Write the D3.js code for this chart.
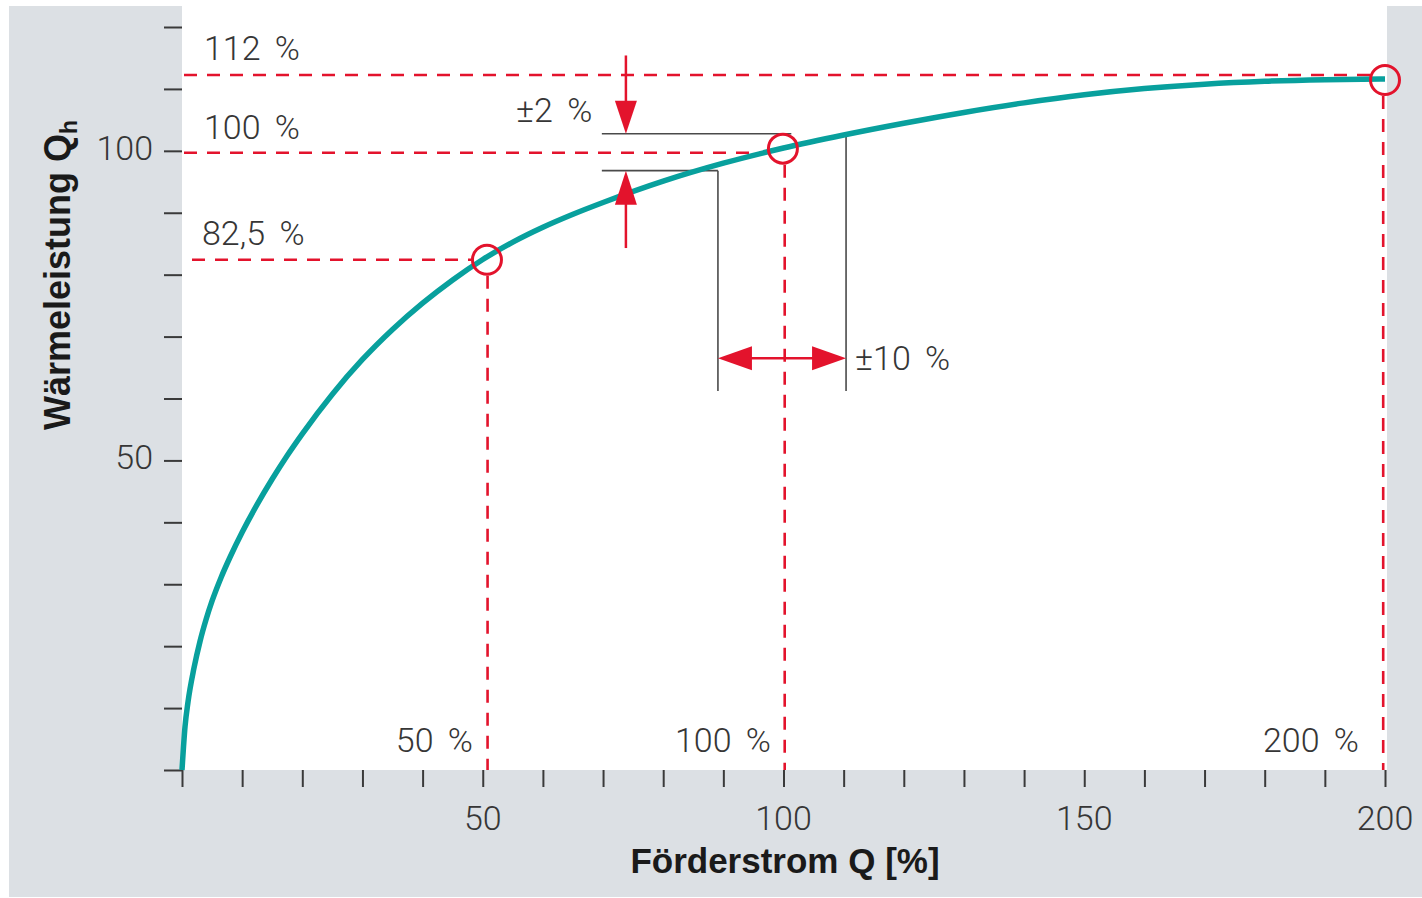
<!DOCTYPE html>
<html>
<head>
<meta charset="utf-8">
<script src="https://cdn.jsdelivr.net/npm/d3@7"></script>
<style>
  html, body { margin: 0; padding: 0; background: #ffffff; }
  svg { display: block; }
  .lt { font-family: "Roboto", "Liberation Sans", sans-serif; font-weight: 300; fill: #363636; }
  .bd { font-family: "Liberation Sans", Arial, sans-serif; font-weight: bold; fill: #1a1a1a; }
</style>
</head>
<body>
<svg id="chart" width="1422" height="898"></svg>
<script>
// ---- data ----
const flowQ  = [0, 0.5, 1, 2, 3, 4, 5, 6.5, 8, 10, 12.5, 15, 17.5, 20, 25, 30, 35, 40, 45, 50, 55, 60, 65, 70, 80, 90, 100, 110, 120, 130, 140, 150, 160, 170, 180, 190, 200];
const heatQh = [0, 7.0, 11.0, 16.5, 20.8, 24.3, 27.3, 31.1, 34.4, 38.4, 42.9, 47.0, 50.8, 54.3, 60.7, 66.3, 71.15, 75.4, 79.15, 82.45, 85.25, 87.65, 89.75, 91.65, 95.1, 98.0, 100.45, 102.55, 104.45, 106.2, 107.75, 109.05, 110.05, 110.77, 111.24, 111.49, 111.59];

const markerQ  = [50.7, 99.9, 200];
const markerQh = [82.4, 100.35, 111.45];
const refLineQh = [112.25, 99.7, 82.4];
const refLabels = ["112 %", "100 %", "82,5 %"];
const flowLabels = ["50 %", "100 %", "200 %"];

const xTickValues = d3.range(0, 201, 10);
const xTickLabels = [50, 100, 150, 200];
const yTickValues = d3.range(0, 121, 10);
const yTickLabels = [50, 100];

// tolerance annotation
const tolQhBand = [102.75, 96.8];      // ±2 % lines
const tolQBand  = [89.1, 110.4];       // ±10 % lines
const tolArrowQ = 73.8;
const tolBandLeftQ = 69.8;
const tolBottomQh = 61.2;
const tolArrowQh = 66.5;
const arrowTopQh = 115.4, arrowBottomQh = 84.3;

// ---- layout ----
const svg = d3.select("#chart");
const x = d3.scaleLinear().domain([0, 200]).range([182, 1385]);
const y = d3.scaleLinear().domain([0, 120]).range([770, 27]);

const RED = "#e3132c", TEAL = "#08a09d", GREY_BG = "#dce0e4", INK = "#3a3a3a";

svg.append("rect").attr("x", 9).attr("y", 6).attr("width", 1413).attr("height", 891).attr("fill", GREY_BG);
svg.append("rect").attr("x", 182).attr("y", 0).attr("width", 1205).attr("height", 770).attr("fill", "#fff");

// axes (ticks only)
const xAxis = d3.axisBottom(x).tickValues(xTickValues).tickSize(17).tickFormat("");
const gx = svg.append("g").attr("transform", "translate(0,770)").call(xAxis);
gx.select(".domain").remove();
gx.selectAll(".tick line").attr("stroke", INK).attr("stroke-width", 2);

const yAxis = d3.axisLeft(y).tickValues(yTickValues).tickSize(18).tickFormat("");
const gy = svg.append("g").attr("transform", "translate(182,0)").call(yAxis);
gy.select(".domain").remove();
gy.selectAll(".tick line").attr("stroke", INK).attr("stroke-width", 2);

svg.selectAll(".xlab").data(xTickLabels).enter().append("text")
  .attr("class", "lt").attr("x", d => x(d)).attr("y", 830)
  .attr("text-anchor", "middle").attr("font-size", 34).text(d => d);
svg.selectAll(".ylab").data(yTickLabels).enter().append("text")
  .attr("class", "lt").attr("x", 153).attr("y", d => y(d) + 9)
  .attr("text-anchor", "end").attr("font-size", 34).text(d => d);

// axis titles
svg.append("text").attr("class", "bd").attr("x", 785).attr("y", 873)
  .attr("text-anchor", "middle").attr("font-size", 35).text("Förderstrom Q [%]");
const yt = svg.append("text").attr("class", "bd")
  .attr("transform", "translate(70,275) rotate(-90)")
  .attr("text-anchor", "middle").attr("font-size", 36);
yt.append("tspan").text("Wärmeleistung Q");
yt.append("tspan").attr("font-size", 23).attr("dy", 7).text("h");

// red dashed reference lines
const dash = "13,10";
const hStart = [184, 184, 192];
const hEnd = [1370, 768, 471];
refLineQh.forEach((v, i) => {
  svg.append("line").attr("x1", hStart[i]).attr("x2", hEnd[i])
    .attr("y1", y(v)).attr("y2", y(v))
    .attr("stroke", RED).attr("stroke-width", 2.6).attr("stroke-dasharray", dash);
});
const vLineQ = [50.8, 100.2, 199.7];
vLineQ.forEach((q, i) => {
  svg.append("line").attr("x1", x(q)).attr("x2", x(q))
    .attr("y1", y(markerQh[i]) + 16).attr("y2", 770)
    .attr("stroke", RED).attr("stroke-width", 2.6).attr("stroke-dasharray", dash);
});

// tolerance black lines
const blk = "#4a4a4a";
svg.append("line").attr("x1", x(tolBandLeftQ)).attr("x2", x(101.3))
  .attr("y1", y(tolQhBand[0])).attr("y2", y(tolQhBand[0])).attr("stroke", blk).attr("stroke-width", 1.6);
svg.append("line").attr("x1", x(tolBandLeftQ)).attr("x2", x(tolQBand[0]))
  .attr("y1", y(tolQhBand[1])).attr("y2", y(tolQhBand[1])).attr("stroke", blk).attr("stroke-width", 1.6);
svg.append("line").attr("x1", x(tolQBand[0])).attr("x2", x(tolQBand[0]))
  .attr("y1", y(tolQhBand[1])).attr("y2", y(tolBottomQh)).attr("stroke", blk).attr("stroke-width", 1.6);
svg.append("line").attr("x1", x(tolQBand[1])).attr("x2", x(tolQBand[1]))
  .attr("y1", y(102.4)).attr("y2", y(tolBottomQh)).attr("stroke", blk).attr("stroke-width", 1.6);

// curve
const pts = flowQ.map((q, i) => [q, heatQh[i]]);
svg.append("path").datum(pts)
  .attr("d", d3.line().x(d => x(d[0])).y(d => y(d[1])).curve(d3.curveMonotoneX))
  .attr("fill", "none").attr("stroke", TEAL).attr("stroke-width", 5.5);

// markers
markerQ.forEach((q, i) => {
  svg.append("circle").attr("cx", x(q)).attr("cy", y(markerQh[i])).attr("r", 14.5)
    .attr("fill", "none").attr("stroke", RED).attr("stroke-width", 3);
});

// red arrows
const ax = x(tolArrowQ);
const tTop = y(tolQhBand[0]), tBot = y(tolQhBand[1]);
svg.append("line").attr("x1", ax).attr("x2", ax).attr("y1", y(arrowTopQh)).attr("y2", tTop - 20)
  .attr("stroke", RED).attr("stroke-width", 2.5);
svg.append("path").attr("d", `M${ax - 11},${tTop - 33} L${ax + 11},${tTop - 33} L${ax},${tTop} Z`).attr("fill", RED);
svg.append("line").attr("x1", ax).attr("x2", ax).attr("y1", tBot + 20).attr("y2", y(arrowBottomQh))
  .attr("stroke", RED).attr("stroke-width", 2.5);
svg.append("path").attr("d", `M${ax - 11},${tBot + 34} L${ax + 11},${tBot + 34} L${ax},${tBot} Z`).attr("fill", RED);

const hy = y(tolArrowQh), lx = x(tolQBand[0]), rx = x(tolQBand[1]);
svg.append("line").attr("x1", lx + 20).attr("x2", rx - 20).attr("y1", hy).attr("y2", hy)
  .attr("stroke", RED).attr("stroke-width", 2.5);
svg.append("path").attr("d", `M${lx},${hy} L${lx + 34},${hy - 12} L${lx + 34},${hy + 12} Z`).attr("fill", RED);
svg.append("path").attr("d", `M${rx},${hy} L${rx - 34},${hy - 12} L${rx - 34},${hy + 12} Z`).attr("fill", RED);

// text labels
const txt = (s, xx, yy, anchor) => svg.append("text").attr("class", "lt")
  .attr("x", xx).attr("y", yy).attr("text-anchor", anchor || "start")
  .attr("font-size", 34).style("word-spacing", "6px").style("white-space", "pre").text(s);

const refLabelY = [60, 139, 245];
const refLabelX = [204, 204, 202];
refLabels.forEach((s, i) => txt(s, refLabelX[i], refLabelY[i]));
const flowLabelX = [473, 771, 1359];
flowLabels.forEach((s, i) => txt(s, flowLabelX[i], 752, "end"));
txt("±2 %", 516, 122);
txt("±10 %", 855, 370);
</script>
</body>
</html>
